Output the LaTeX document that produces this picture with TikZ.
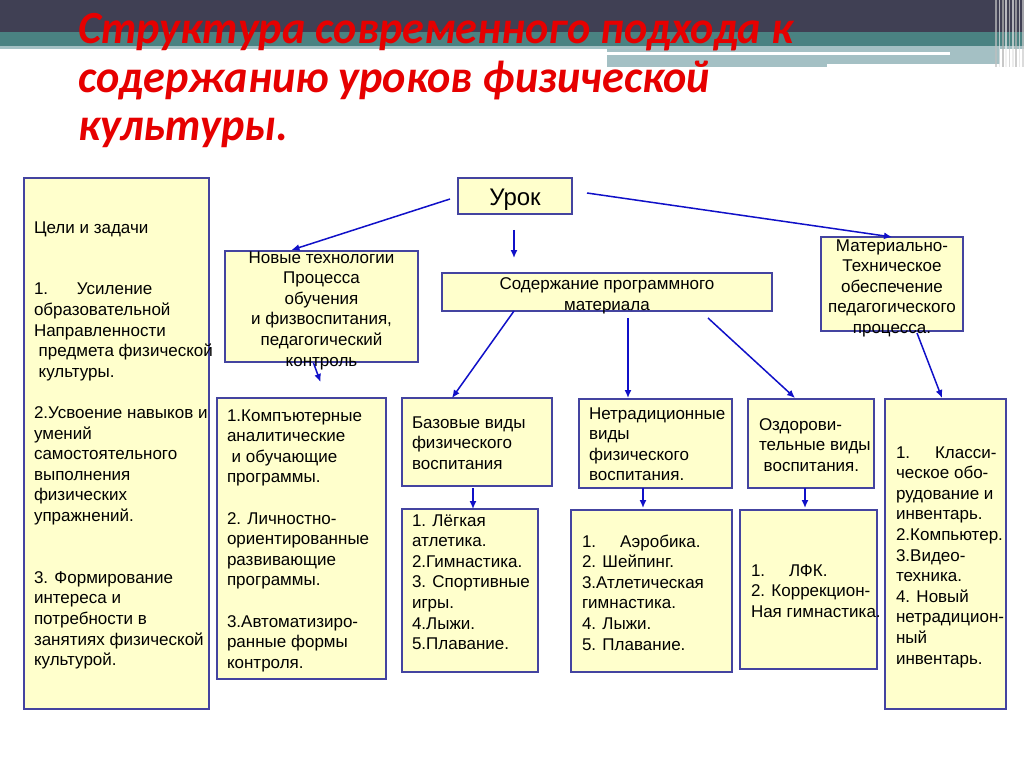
\documentclass[tikz,border=0pt]{standalone}
\usepackage{graphicx}
\usepackage{fontspec}
\setmainfont{Liberation Sans}
\newfontfamily\titlefont{Carlito}
\usetikzlibrary{calc,arrows.meta}
\definecolor{boxfill}{HTML}{FFFFCC}
\definecolor{boxline}{HTML}{4444A0}
\definecolor{arrowblue}{HTML}{1010C8}
\definecolor{bandDark}{HTML}{404054}
\definecolor{bandTeal}{HTML}{4A8282}
\definecolor{bandLight}{HTML}{A4C0C4}
\definecolor{titlered}{HTML}{E60000}
% width, height, first baseline from top, left pad, lines
\newcommand\lbox[5]{\parbox[c][#2pt][t]{#1pt}{\fontsize{17}{20.6}\selectfont\vspace*{\dimexpr#3pt-14.42pt\relax}\par\noindent\hspace*{#4pt}\begin{tabular}[t]{@{}l@{}}#5\end{tabular}}}
\newcommand\cbox[4]{\parbox[c][#2pt][t]{#1pt}{\fontsize{17}{20.6}\selectfont\centering\vspace*{\dimexpr#3pt-14.42pt\relax}\par\begin{tabular}[t]{@{}c@{}}#4\end{tabular}\par}}
\newcommand\tb[2]{\makebox[#1pt][l]{#2}}
\newcommand\ttltext[1]{\scalebox{0.962}[1]{#1}}
\tikzset{
  box/.style={draw=boxline, fill=boxfill, line width=1.3pt, inner sep=0pt, outer sep=0pt},
  arr/.style={draw=arrowblue, line width=1.5pt, -{Latex[length=8pt,width=7pt]}},
  ttl/.style={anchor=base west, inner sep=0pt, text=titlered, font=\titlefont\fontsize{46}{50}\selectfont\bfseries\itshape}
}
\begin{document}
\begin{tikzpicture}[x=1pt,y=-1pt]
\useasboundingbox (0,0) rectangle (1024,767);
\fill[white] (0,0) rectangle (1024,767);
% top decoration
\fill[bandDark] (0,0) rectangle (1024,32);
\fill[bandTeal] (0,32) rectangle (1024,46);
\fill[bandLight] (0,46) rectangle (1024,49);
\fill[bandLight] (607,46) rectangle (1000,67);
\fill[white] (607,52.5) rectangle (950,55.5);
\fill[white] (827,64) rectangle (1007,68);
\foreach \xx/\cc in {995/gray!50,998.5/gray!20,1002/gray!60,1005/gray!15,1008.5/gray!45,1012/gray!20,1015/gray!55,1018.5/gray!25,1022/gray!40}
  \fill[\cc, opacity=0.7] (\xx,0) rectangle ++(1.6,67);
% title
\node[ttl] (t1) at (78,44) {\ttltext{Структура современного подхода к}};
\node[ttl] (t2) at (78,93) {\ttltext{содержанию уроков физической}};
\node[ttl] (t3) at (78,141) {\ttltext{культуры.}};
% boxes
\node[box] (goal) at (116.5,443.5) {\lbox{185}{531}{55}{10}{Цели и задачи\\[20.6pt] \\[0pt] \tb{43}{1.}Усиление\\образовательной\\Направленности\\\ предмета физической\\\ культуры.\\[20.6pt]2.Усвоение навыков и\\умений\\самостоятельного\\выполнения\\физических\\упражнений.\\[20.6pt] \\[0pt]3. Формирование\\интереса и\\потребности в\\занятиях физической\\культурой.}};
\node[box, minimum width=114pt, minimum height=36pt, text height=20pt, text depth=0pt, font=\fontsize{24}{28}\selectfont] (urok) at (515,196) {Урок};
\node[box] (tech) at (321.5,306.5) {\cbox{193}{111}{12}{Новые технологии\\Процесса\\обучения\\и физвоспитания,\\педагогический\\контроль}};
\node[box] (cont) at (607,292) {\cbox{330}{38}{16.5}{Содержание программного\\материала}};
\node[box] (mat) at (892,284) {\cbox{142}{94}{14}{Материально-\\Техническое\\обеспечение\\педагогического\\процесса.}};
\node[box] (comp) at (301.5,538.5) {\lbox{169}{281}{23}{10}{1.Компъютерные\\аналитические\\\ и обучающие\\программы.\\[20.6pt]2. Личностно-\\ориентированные\\развивающие\\программы.\\[20.6pt]3.Автоматизиро-\\ранные формы\\контроля.}};
\node[box] (base) at (477,442) {\lbox{150}{88}{30}{10}{Базовые виды\\физического\\воспитания}};
\node[box] (list1) at (470,590.5) {\lbox{136}{163}{17}{10}{1. Лёгкая\\атлетика.\\2.Гимнастика.\\3. Спортивные\\игры.\\4.Лыжи.\\5.Плавание.}};
\node[box] (netr) at (655.5,443.5) {\lbox{153}{89}{20}{10}{Нетрадиционные\\виды\\физического\\воспитания.}};
\node[box] (list2) at (651.5,591) {\lbox{161}{162}{37}{11}{\tb{38}{1.}Аэробика.\\2. Шейпинг.\\3.Атлетическая\\гимнастика.\\4. Лыжи.\\5. Плавание.}};
\node[box] (ozd) at (811,443.5) {\lbox{126}{89}{31}{11}{Оздорови-\\тельные виды\\\ воспитания.}};
\node[box] (list3) at (808.5,589.5) {\lbox{137}{159}{66}{11}{\tb{38}{1.}ЛФК.\\2. Коррекцион-\\Ная гимнастика.}};
\node[box] (klass) at (945.5,554) {\lbox{121}{310}{59}{11}{\tb{39}{1.}Класси-\\ческое обо-\\рудование и\\инвентарь.\\2.Компьютер.\\3.Видео-\\техника.\\4. Новый\\нетрадицион-\\ный\\инвентарь.}};
% arrows
\draw[arr] ($(urok.west)+(-8,3)$) -- ($(tech.north)+(-30,-1)$);
\draw[arr] ($(urok.south)+(-1,16)$) -- ($(urok.south)+(-1,44)$);
\draw[arr] ($(urok.east)+(15,-3)$) -- (mat.north);
\draw[arr] ($(tech.south)+(-8,1)$) -- ($(tech.south)+(-1,20)$);
\draw[arr] ($(cont.south west)+(72,0)$) -- ($(base.north)+(-25,0)$);
\draw[arr] ($(cont.south)+(21,7)$) -- ($(netr.north)+(-27.5,-1)$);
\draw[arr] ($(cont.south)+(101,7)$) -- ($(ozd.north)+(-16,-1)$);
\draw[arr] ($(mat.south)+(25,2)$) -- ($(klass.north)+(-3.5,-1)$);
\draw[arr] ($(base.south)+(-4,2)$) -- ($(list1.north)+(3,0)$);
\draw[arr] ($(netr.south)+(-12.5,0)$) -- ($(list2.north)+(-8.5,-2)$);
\draw[arr] ($(ozd.south)+(-6,0)$) -- ($(list3.north)+(-3.5,-2)$);
\end{tikzpicture}
\end{document}
